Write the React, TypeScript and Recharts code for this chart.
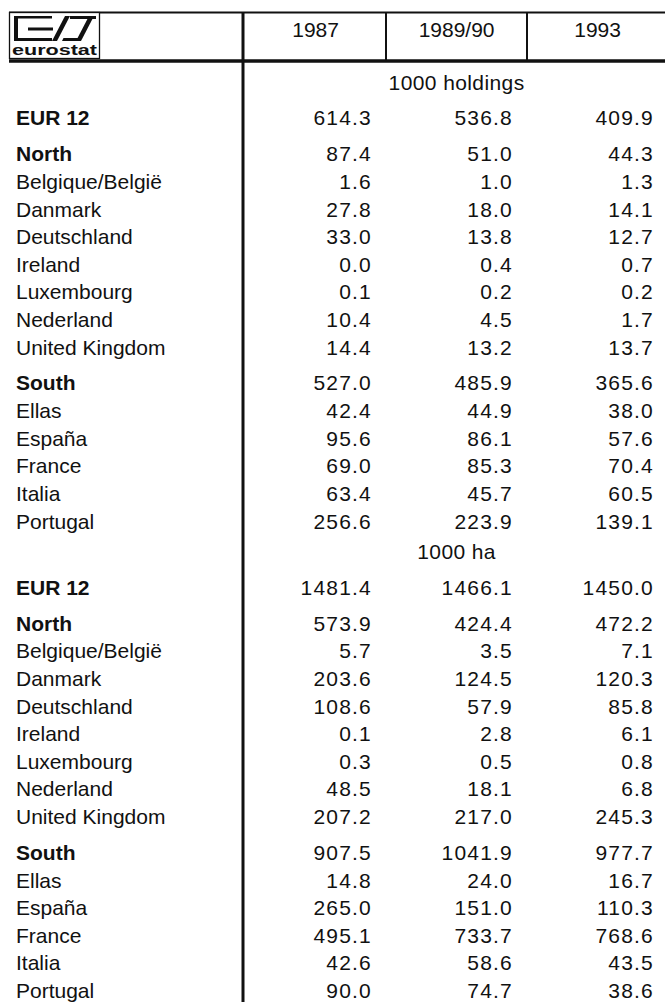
import React from 'react';
import { ComposedChart, XAxis, YAxis, Scatter, Customized } from 'recharts';

// ---------- data ----------
const years = ['1987', '1989/90', '1993'];
const units = ['1000 holdings', '1000 ha'];
const regions = [
  'EUR 12', 'North', 'Belgique/België', 'Danmark', 'Deutschland', 'Ireland', 'Luxembourg',
  'Nederland', 'United Kingdom', 'South', 'Ellas', 'España', 'France', 'Italia', 'Portugal',
];
const boldRegions = ['EUR 12', 'North', 'South'];
const groupStarts = ['EUR 12', 'North', 'South'];

const holdings1987 = [614.3, 87.4, 1.6, 27.8, 33.0, 0.0, 0.1, 10.4, 14.4, 527.0, 42.4, 95.6, 69.0, 63.4, 256.6];
const holdings1989 = [536.8, 51.0, 1.0, 18.0, 13.8, 0.4, 0.2, 4.5, 13.2, 485.9, 44.9, 86.1, 85.3, 45.7, 223.9];
const holdings1993 = [409.9, 44.3, 1.3, 14.1, 12.7, 0.7, 0.2, 1.7, 13.7, 365.6, 38.0, 57.6, 70.4, 60.5, 139.1];

const area1987 = [1481.4, 573.9, 5.7, 203.6, 108.6, 0.1, 0.3, 48.5, 207.2, 907.5, 14.8, 265.0, 495.1, 42.6, 90.0];
const area1989 = [1466.1, 424.4, 3.5, 124.5, 57.9, 2.8, 0.5, 18.1, 217.0, 1041.9, 24.0, 151.0, 733.7, 58.6, 74.7];
const area1993 = [1450.0, 472.2, 7.1, 120.3, 85.8, 6.1, 0.8, 6.8, 245.3, 977.7, 16.7, 110.3, 768.6, 43.5, 38.6];

const sectionValues = [
  [holdings1987, holdings1989, holdings1993],
  [area1987, area1989, area1993],
];

// ---------- layout ----------
const W = 665;
const H = 1002;
const FONT = '"Liberation Sans", Arial, Helvetica, sans-serif';
const FS = 21;
const GAP = 0.3;
const UNIT_GAP = 0.1;
const LABEL_X = 16;
const HEADER_TEXT_Y = 37;
const DY = 7.5;
const LABEL_COL_W = 231;
const HEADER_H = 61;
const TOP = 82;
const BOTTOM = 11.5;

type DataRow = { label: string; pos: number; bold: boolean; section: number; idx: number };
type UnitRow = { label: string; pos: number };

const dataRows: DataRow[] = [];
const unitRows: UnitRow[] = [];
(() => {
  let pos = 0;
  units.forEach((u, s) => {
    if (s > 0) pos += 1 + UNIT_GAP;
    unitRows.push({ label: u, pos });
    regions.forEach((r, i) => {
      pos += 1;
      if (groupStarts.includes(r)) pos += GAP;
      dataRows.push({ label: r, pos, bold: boldRegions.includes(r), section: s, idx: i });
    });
  });
})();
const maxPos = dataRows[dataRows.length - 1].pos;

const columnData = years.map((_, c) =>
  dataRows.map((r) => ({ x: c + 1, y: r.pos, value: sectionValues[r.section][c][r.idx] }))
);
const unitData = unitRows.map((u) => ({ x: 1.6, y: u.pos, label: u.label }));
const headerTicks = years.map((_, c) => c + 0.6);
const labelTicks = dataRows.map((r) => r.pos);

const ValueShape = (props: any) => {
  const { cx, cy, payload } = props;
  return (
    <text x={cx} y={cy} dy={DY} textAnchor="end" fontSize={FS} fontFamily={FONT}
      letterSpacing={1.2} fill="#111">
      {payload.value.toFixed(1)}
    </text>
  );
};

const UnitShape = (props: any) => {
  const { cx, cy, payload } = props;
  return (
    <text x={cx} y={cy} dy={DY} textAnchor="middle" fontSize={FS} fontFamily={FONT}
      letterSpacing={0.4} fill="#111">
      {payload.label}
    </text>
  );
};

const LabelTick = (props: any) => {
  const { y, payload } = props;
  const row = dataRows.find((r) => Math.abs(r.pos - payload.value) < 1e-6);
  if (!row) return <g />;
  return (
    <text x={LABEL_X} y={y} dy={DY} textAnchor="start" fontSize={FS} fontFamily={FONT}
      fontWeight={row.bold ? 700 : 400} fill="#111">
      {row.label}
    </text>
  );
};

const HeaderTick = (props: any) => {
  const { x, payload } = props;
  const c = Math.round(payload.value - 0.6);
  return (
    <text x={x} y={HEADER_TEXT_Y} textAnchor="middle" fontSize={FS} fontFamily={FONT} fill="#111">
      {years[c]}
    </text>
  );
};

const Decor = () => (
  <g>
    {/* header frame */}
    <line x1={9} y1={12.5} x2={W} y2={12.5} stroke="#111" strokeWidth={2} />
    <line x1={9} y1={61} x2={W} y2={61} stroke="#111" strokeWidth={3.5} />
    <line x1={243} y1={12} x2={243} y2={H} stroke="#111" strokeWidth={3} />
    <line x1={386} y1={12} x2={386} y2={61} stroke="#111" strokeWidth={2} />
    <line x1={527} y1={12} x2={527} y2={61} stroke="#111" strokeWidth={2} />
    {/* eurostat logo */}
    <rect x={9.5} y={12.5} width={90} height={46} fill="#fff" stroke="#111" strokeWidth={1.3} />
    <g fill="#111">
      <rect x={14} y={16} width={4} height={25} />
      <rect x={14} y={16} width={38} height={2.5} />
      <rect x={28} y={27.5} width={25} height={3} />
      <rect x={14} y={38} width={38} height={3} />
      <polygon points="52,41 57,41 70,16 65,16" />
      <rect x={70} y={16} width={26} height={3} />
      <polygon points="62,41 80,41 81.5,38 63.5,38" />
      <polygon points="76,41 81,41 94,16 89,16" />
    </g>
    <text x={12} y={54.5} fontSize={14} fontWeight={700} fontFamily={FONT} fill="#111"
      textLength={85} lengthAdjust="spacingAndGlyphs">eurostat</text>
  </g>
);

export default function App() {
  return (
    <div style={{ position: 'absolute', left: 0, top: 0, width: W, height: H, background: '#fff' }}>
      <ComposedChart width={W} height={H}
        margin={{ top: TOP - HEADER_H, right: 11, bottom: BOTTOM, left: 0 }}>
        <XAxis type="number" dataKey="x" domain={[0, 3]} orientation="top" height={HEADER_H}
          ticks={headerTicks} interval={0} axisLine={false} tickLine={false}
          tick={(p: any) => <HeaderTick {...p} />} />
        <YAxis type="number" dataKey="y" domain={[0, maxPos]} reversed width={LABEL_COL_W}
          ticks={labelTicks} interval={0} axisLine={false} tickLine={false}
          tick={(p: any) => <LabelTick {...p} />} />
        <Customized component={Decor} />
        {columnData.map((d, c) => (
          <Scatter key={c} data={d} isAnimationActive={false} shape={(p: any) => <ValueShape {...p} />} />
        ))}
        <Scatter data={unitData} isAnimationActive={false} shape={(p: any) => <UnitShape {...p} />} />
      </ComposedChart>
    </div>
  );
}
